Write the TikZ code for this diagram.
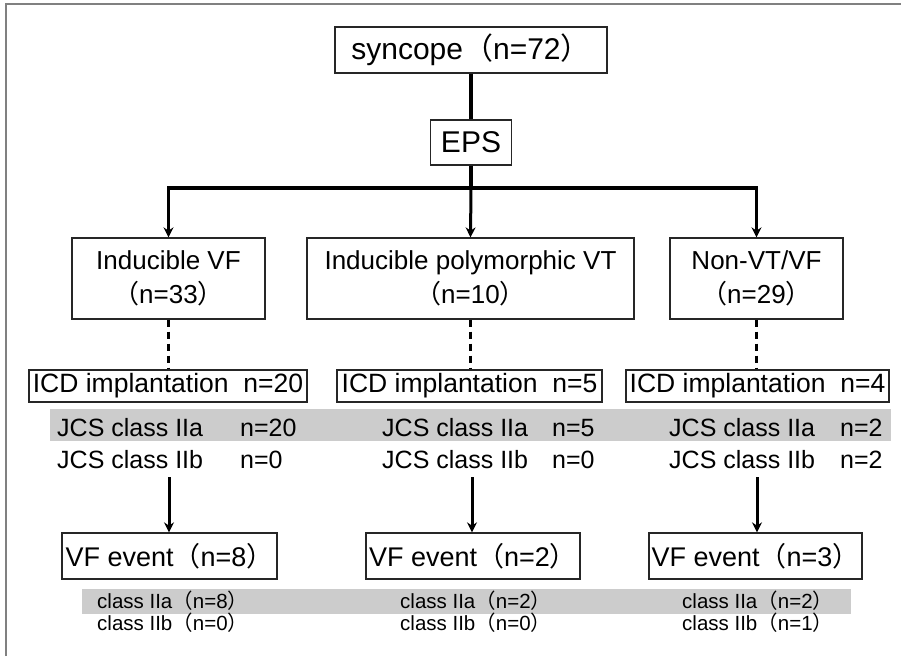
\documentclass[tikz,border=0pt]{standalone}
\usepackage{fontspec}
\setmainfont{Liberation Sans}
\newfontfamily\cjk{Noto Sans CJK JP}
\usetikzlibrary{arrows.meta}
\newcommand\myLP{{\cjk （}}
\newcommand\myRP{{\cjk ）}}
\begin{document}
\begin{tikzpicture}[x=1pt,y=-1pt,
  box/.style={draw=black!85, line width=1.3pt, inner sep=0pt, align=center},
  big/.style={font=\fontsize{30}{36}\selectfont},
  mid/.style={font=\fontsize{26}{34}\selectfont},
  jcs/.style={font=\fontsize{25}{28}\selectfont, anchor=base west, inner sep=0pt},
  small/.style={font=\fontsize{20.5}{24}\selectfont, anchor=base west, inner sep=0pt},
  conn/.style={line width=3.2pt},
  hconn/.style={line width=3.2pt, line cap=rect},
  arr/.style={line width=3pt, -{Stealth[length=10pt,width=10pt]}},
  dots/.style={line width=3pt, dash pattern=on 7pt off 5pt},
  band/.style={fill=black!20, draw=none}]
\useasboundingbox (0,0) rectangle (901,656);
\fill[white] (0,0) rectangle (901,656);
\draw[black!50, line width=2pt] (5.5,656) -- (5.5,3.5) -- (901,3.5);

% gray bands
\fill[band] (50,409) rectangle (891,441);
\fill[band] (82,589) rectangle (851,614);

% top
\node[box, big, minimum width=272pt, minimum height=46pt] (syn) at (471,50) {syncope\myLP n=72\myRP};
\node[box, big, minimum width=81pt, minimum height=45pt] (eps) at (471,142.5) {EPS};
\draw[conn] (syn.south) -- (eps.north);

% second level
\node[box, mid, minimum width=193pt, minimum height=81pt] (b1) at (168.5,278.5) {Inducible VF\\\myLP n=33\myRP};
\node[box, mid, minimum width=327pt, minimum height=81pt] (b2) at (470.5,278.5) {Inducible polymorphic VT\\\myLP n=10\myRP};
\node[box, mid, minimum width=173pt, minimum height=81pt] (b3) at (756.5,278.5) {Non-VT/VF\\\myLP n=29\myRP};

\coordinate (j) at (471,188);
\coordinate (jl) at (168.5,188);
\coordinate (jr) at (756.5,188);
\draw[conn] (eps.south) -- (j);
\draw[hconn] (jl) -- (jr);
\draw[arr] (jl) -- (b1.north);
\draw[arr] (j) -- (b2.north);
\draw[arr] (jr) -- (b3.north);

% ICD
\node[box, mid, font=\fontsize{26.5}{34}\selectfont, minimum width=278pt, minimum height=32pt] (i1) at (168,386) {ICD implantation\ \ n=20};
\node[box, mid, font=\fontsize{26.5}{34}\selectfont, minimum width=265pt, minimum height=32pt] (i2) at (469.5,386) {ICD implantation\ \ n=5};
\node[box, mid, font=\fontsize{26.5}{34}\selectfont, minimum width=263pt, minimum height=32pt] (i3) at (757.5,386) {ICD implantation\ \ n=4};
\draw[dots] (b1.south) -- (b1.south |- i1.north);
\draw[dots] (b2.south) -- (b2.south |- i2.north);
\draw[dots] (b3.south) -- (b3.south |- i3.north);

% JCS rows
\node[jcs] (t1a) at (57,436) {JCS class IIa};
\node[jcs] (n1a) at (240,436) {n=20};
\node[jcs] (t1b) at (57,468) {JCS class IIb};
\node[jcs] (n1b) at (240,468) {n=0};
\node[jcs] (t2a) at (382,436) {JCS class IIa};
\node[jcs] (n2a) at (552,436) {n=5};
\node[jcs] (t2b) at (382,468) {JCS class IIb};
\node[jcs] (n2b) at (552,468) {n=0};
\node[jcs] (t3a) at (669,436) {JCS class IIa};
\node[jcs] (n3a) at (840,436) {n=2};
\node[jcs] (t3b) at (669,468) {JCS class IIb};
\node[jcs] (n3b) at (840,468) {n=2};

% VF event
\node[box, font=\fontsize{27}{33}\selectfont, minimum width=215pt, minimum height=46pt] (v1) at (169.5,556) {VF event\myLP n=8\myRP};
\node[box, font=\fontsize{27}{33}\selectfont, minimum width=214pt, minimum height=46pt] (v2) at (473,556) {VF event\myLP n=2\myRP};
\node[box, font=\fontsize{27}{33}\selectfont, minimum width=213pt, minimum height=46pt] (v3) at (755.5,556) {VF event\myLP n=3\myRP};
\coordinate (s1) at (169,477);
\coordinate (s2) at (472,477);
\coordinate (s3) at (757,477);
\draw[arr] (s1) -- (s1 |- v1.north);
\draw[arr] (s2) -- (s2 |- v2.north);
\draw[arr] (s3) -- (s3 |- v3.north);

% small rows
\node[small] (c1a) at (97,608) {class IIa\myLP n=8\myRP};
\node[small] (c1b) at (97,630) {class IIb\myLP n=0\myRP};
\node[small] (c2a) at (400,608) {class IIa\myLP n=2\myRP};
\node[small] (c2b) at (400,630) {class IIb\myLP n=0\myRP};
\node[small] (c3a) at (682,608) {class IIa\myLP n=2\myRP};
\node[small] (c3b) at (682,630) {class IIb\myLP n=1\myRP};
\end{tikzpicture}
\end{document}
